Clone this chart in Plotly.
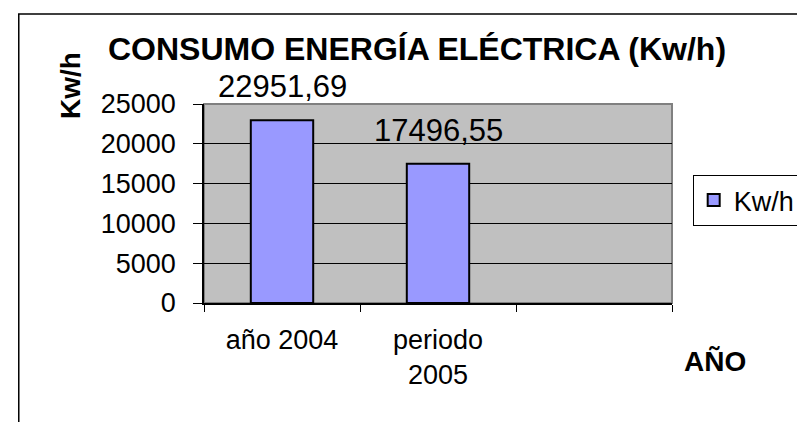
import plotly.graph_objects as go

categories = ["año 2004", "periodo<br>2005", " "]
values = [22951.69, 17496.55, None]
value_labels = ["22951,69", "17496,55", ""]
series_name = "Kw/h"
y_ticks = [0, 5000, 10000, 15000, 20000, 25000]

W, H = 805, 422
L, R, T, B = 196, 671, 96, 295

def px_x(p):
    return (p - L) / (R - L)

def px_y(p):
    return (B - p) / (B - T)

FONT = "Liberation Sans, Arial, sans-serif"

fig = go.Figure()
fig.add_trace(go.Bar(
    x=categories, y=values, name=series_name,
    marker=dict(color="#9999FF", line=dict(color="black", width=2)),
    width=0.4,
))

for c, v, t in zip(categories, values, value_labels):
    if v is None:
        continue
    fig.add_annotation(x=c, y=v, text=t, showarrow=False, xref="x", yref="y",
                       yanchor="bottom", yshift=14,
                       font=dict(family=FONT, size=31, color="black"))

fig.update_layout(
    width=W, height=H,
    margin=dict(l=L, r=W - R, t=T, b=H - B),
    paper_bgcolor="white",
    plot_bgcolor="#C0C0C0",
    showlegend=True,
    legend=dict(x=px_x(692), y=px_y(167), xanchor="left", yanchor="top",
                bgcolor="white", bordercolor="black", borderwidth=1,
                font=dict(family=FONT, size=27, color="black")),
    title=dict(text="<b>CONSUMO ENERGÍA ELÉCTRICA (Kw/h)</b>",
               x=409 / W, xanchor="center", xref="container",
               y=1 - 41 / H, yanchor="middle",
               font=dict(family=FONT, size=32, color="black")),
    font=dict(family=FONT, color="black"),
)

fig.update_xaxes(
    type="category", categoryorder="array", categoryarray=categories,
    range=[-0.5, 2.5],
    tickson="boundaries", ticks="outside", ticklen=7, tickcolor="black", tickwidth=1,
    showline=True, linecolor="black", linewidth=1.5, mirror=False,
    showgrid=False,
    tickfont=dict(family=FONT, size=27, color="black"),
    ticklabelstandoff=12,
)
fig.update_yaxes(
    range=[0, 25000], tickvals=y_ticks, ticktext=[str(v) for v in y_ticks],
    ticks="outside", ticklen=9, tickcolor="black", tickwidth=1,
    showline=True, linecolor="black", linewidth=1.5,
    showgrid=True, gridcolor="black", gridwidth=1,
    zeroline=False,
    tickfont=dict(family=FONT, size=27, color="black"),
    ticklabelstandoff=12,
)

# plot area outline (gray)
fig.add_shape(type="rect", xref="paper", yref="paper", x0=0, x1=1, y0=0, y1=1,
              line=dict(color="#808080", width=2), layer="below")

# outer chart border
fig.add_shape(type="rect", xref="paper", yref="paper",
              x0=px_x(8), x1=px_x(830), y0=px_y(450), y1=px_y(6),
              line=dict(color="black", width=1.5))

fig.add_annotation(text="<b>Kw/h</b>", textangle=-90, showarrow=False,
                   xref="paper", yref="paper", x=px_x(61), y=px_y(77),
                   xanchor="center", yanchor="middle",
                   font=dict(family=FONT, size=28, color="black"))
fig.add_annotation(text="<b>AÑO</b>", showarrow=False,
                   xref="paper", yref="paper", x=px_x(715), y=px_y(353),
                   xanchor="center", yanchor="middle",
                   font=dict(family=FONT, size=28, color="black"))

fig.write_html("out.html")
